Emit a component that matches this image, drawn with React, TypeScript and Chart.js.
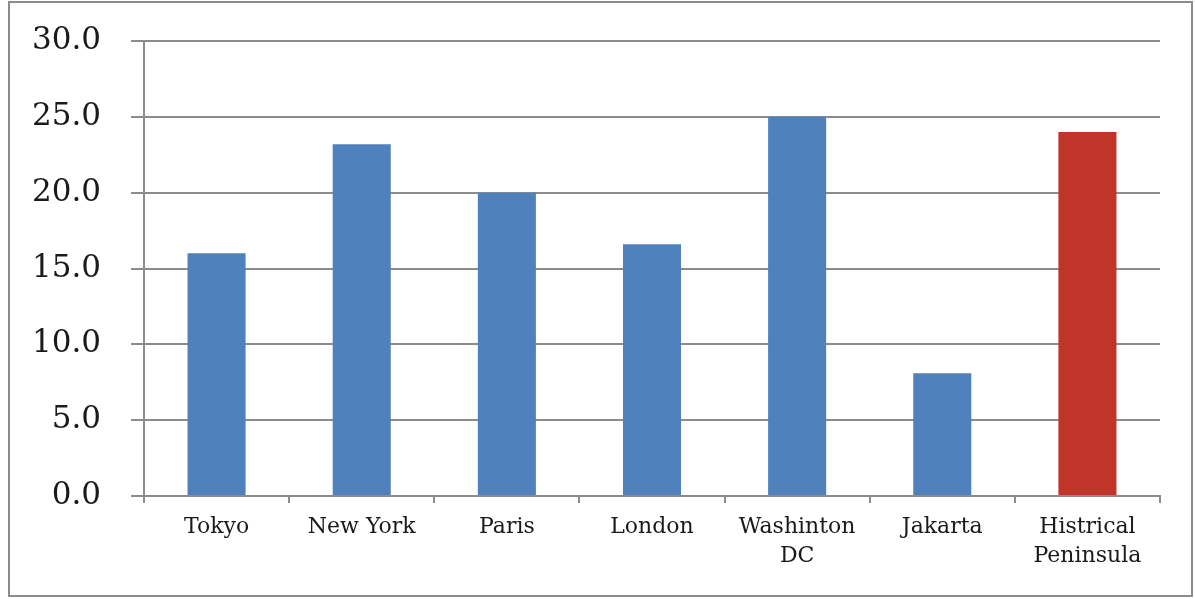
import React, { useEffect, useRef } from "react";
import { Chart, registerables } from "chart.js";

Chart.register(...registerables);

const categories: (string | string[])[] = [
  "Tokyo",
  "New York",
  "Paris",
  "London",
  ["Washinton", "DC"],
  "Jakarta",
  ["Histrical", "Peninsula"],
];
const values = [16.0, 23.2, 20.0, 16.6, 25.0, 8.1, 24.0];
const barColors = ["#4f81bd", "#4f81bd", "#4f81bd", "#4f81bd", "#4f81bd", "#4f81bd", "#c1342a"];
const yMin = 0;
const yMax = 30;
const yStep = 5;

export default function App() {
  const ref = useRef<HTMLCanvasElement | null>(null);
  useEffect(() => {
    if (!ref.current) return;
    const grid = "#8c8c8c";
    const chart = new Chart(ref.current, {
      type: "bar",
      data: {
        labels: categories,
        datasets: [
          {
            data: values,
            backgroundColor: barColors,
            borderWidth: 0,
            categoryPercentage: 1,
            barPercentage: 0.4,
          },
        ],
      },
      options: {
        animation: false,
        responsive: false,
        maintainAspectRatio: false,
        layout: { padding: { top: 41, right: 35, left: 0, bottom: 0 } },
        plugins: { legend: { display: false }, tooltip: { enabled: false } },
        scales: {
          x: {
            offset: true,
            grid: {
              display: true,
              offset: true,
              drawOnChartArea: false,
              drawTicks: true,
              tickLength: 7,
              color: grid,
              lineWidth: 2,
            },
            border: { display: true, color: grid, width: 2 },
            ticks: {
              color: "#1a1a1a",
              font: { family: "DejaVu Serif", size: 22, lineHeight: 1.32 },
              padding: 10,
              maxRotation: 0,
              autoSkip: false,
            },
            afterFit: (s: any) => {
              s.height = 103;
              s.paddingLeft = 0;
              s.paddingRight = 0;
            },
          },
          y: {
            min: yMin,
            max: yMax,
            ticks: {
              stepSize: yStep,
              color: "#1a1a1a",
              font: { family: "DejaVu Serif", size: 31 },
              padding: 30,
              callback: (v: any) => Number(v).toFixed(1),
            },
            grid: { color: grid, lineWidth: 2, tickLength: 13 },
            border: { display: true, color: grid, width: 2 },
            afterFit: (s: any) => {
              s.width = 144;
              s.paddingTop = 0;
              s.paddingBottom = 0;
            },
          },
        },
      },
    });
    return () => chart.destroy();
  }, []);
  return (
    <div style={{ position: "fixed", left: 0, top: 0, width: 1195, height: 599, background: "#fff" }}>
      <canvas ref={ref} width={1195} height={599} style={{ position: "absolute", left: 0, top: 0 }} />
      <div
        style={{
          position: "absolute",
          left: 8,
          top: 1,
          width: 1181,
          height: 592,
          border: "2px solid #8c8c8c",
          pointerEvents: "none",
        }}
      />
    </div>
  );
}
